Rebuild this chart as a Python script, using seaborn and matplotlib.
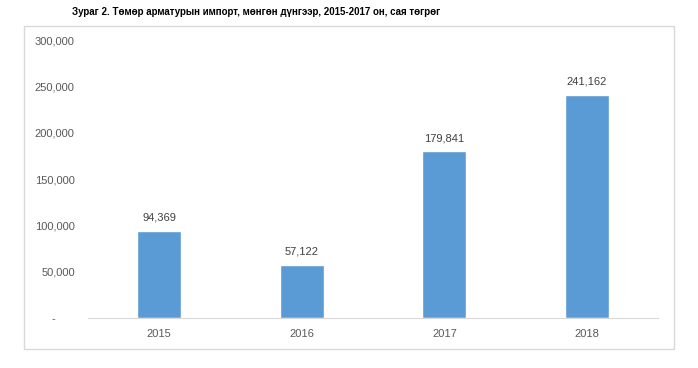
import matplotlib
matplotlib.use('Agg')
import matplotlib.pyplot as plt
import seaborn as sns
import pandas as pd
from matplotlib.patches import Rectangle
from matplotlib.ticker import FuncFormatter

years = ['2015', '2016', '2017', '2018']
values = [94369, 57122, 179841, 241162]
title = 'Зураг 2. Төмөр арматурын импорт, мөнгөн дүнгээр, 2015-2017 он, сая төгрөг'

df = pd.DataFrame({'year': years, 'value': values})

sns.set_style('white')
plt.rcParams['font.family'] = ['Liberation Sans', 'DejaVu Sans']

fig = plt.figure(figsize=(6.98, 3.68), dpi=100)
ax = fig.add_axes([0.126, 0.136, 0.817, 0.755])

sns.barplot(data=df, x='year', y='value', color='#5b9bd5', width=0.31,
            saturation=1, ax=ax)

ax.set_ylim(0, 300000)
ax.set_yticks(range(0, 300001, 50000))
# excel-style zero label: dash with some trailing space
ax.yaxis.set_major_formatter(FuncFormatter(lambda v, p: '-      ' if v == 0 else f'{int(v):,}'))
ax.set_xlabel('')
ax.set_ylabel('')

for i, v in enumerate(values):
    ax.text(i, v + 9000, f'{v:,}', ha='center', va='bottom', fontsize=8, color='#404040')

for s in ['top', 'right', 'left']:
    ax.spines[s].set_visible(False)
ax.spines['bottom'].set_color('#d9d9d9')
ax.tick_params(axis='both', length=0, labelsize=8, colors='#595959')
ax.tick_params(axis='y', pad=9.5)
ax.tick_params(axis='x', pad=8)

# outer chart frame
fig.patches.append(Rectangle((0.034, 0.052), 0.932, 0.878, transform=fig.transFigure,
                             fill=False, edgecolor='#d9d9d9', linewidth=1))

fig.text(0.103, 0.968, title, fontsize=7, fontweight='bold', color='#000000',
         ha='left', va='center')

fig.savefig('out.png', dpi=100)
